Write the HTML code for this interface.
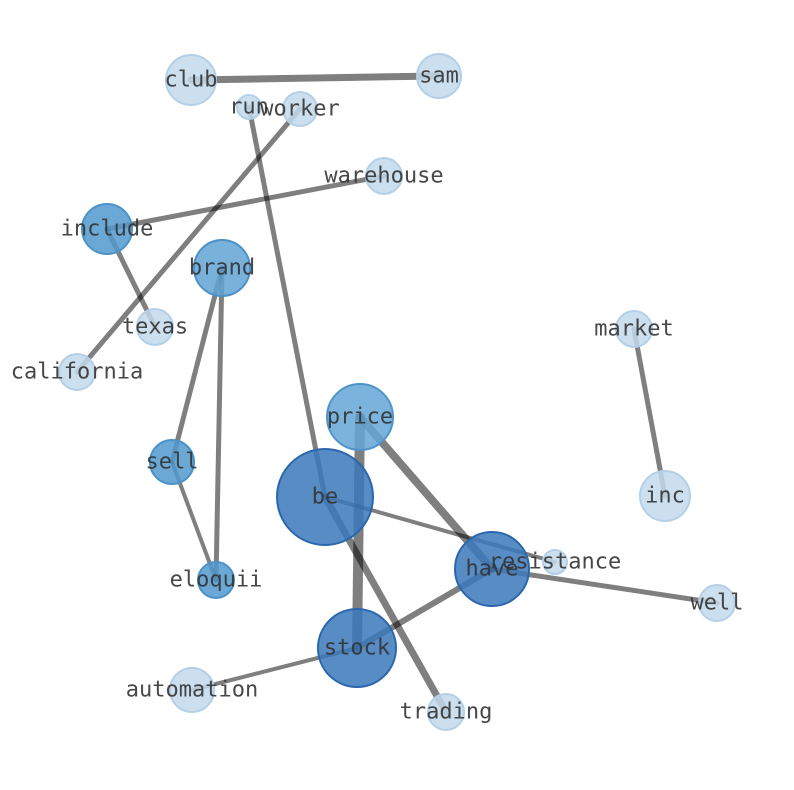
<!DOCTYPE html>
<html><head><meta charset="utf-8"><style>html,body{margin:0;padding:0;background:#fff}svg{display:block}</style></head>
<body>
<svg width="794" height="790" viewBox="0 0 794 790" xmlns="http://www.w3.org/2000/svg">
<g stroke-linecap="round">
<g stroke="#000" stroke-opacity="0.5">
<line x1="191" y1="80" x2="439" y2="76" stroke-width="7"/>
<line x1="249" y1="107" x2="325" y2="497" stroke-width="5"/>
<line x1="300" y1="109" x2="77" y2="372" stroke-width="5"/>
<line x1="384" y1="176" x2="107" y2="229" stroke-width="5"/>
<line x1="107" y1="229" x2="155" y2="327" stroke-width="5"/>
<line x1="222" y1="268" x2="172" y2="462" stroke-width="5"/>
<line x1="222" y1="268" x2="216" y2="580" stroke-width="5"/>
<line x1="172" y1="462" x2="216" y2="580" stroke-width="4"/>
<line x1="634" y1="329" x2="665" y2="496" stroke-width="5"/>
<line x1="360" y1="417" x2="357" y2="648" stroke-width="10"/>
<line x1="360" y1="417" x2="492" y2="569" stroke-width="8"/>
<line x1="325" y1="497" x2="555" y2="562" stroke-width="4"/>
<line x1="325" y1="497" x2="446" y2="712" stroke-width="7"/>
<line x1="492" y1="569" x2="357" y2="648" stroke-width="6"/>
<line x1="492" y1="569" x2="717" y2="603" stroke-width="5"/>
<line x1="357" y1="648" x2="192" y2="690" stroke-width="4"/>
</g>
<g fill-opacity="0.85" stroke-width="2">
<circle cx="191" cy="80" r="25" fill="#c2d9ec" stroke="#b3d0e8"/>
<circle cx="439" cy="76" r="22" fill="#c2d9ec" stroke="#b3d0e8"/>
<circle cx="249" cy="107" r="12" fill="#c2d9ec" stroke="#b3d0e8"/>
<circle cx="300" cy="109" r="17" fill="#c2d9ec" stroke="#b3d0e8"/>
<circle cx="384" cy="176" r="18" fill="#c2d9ec" stroke="#b3d0e8"/>
<circle cx="107" cy="229" r="25" fill="#5199ce" stroke="#4a92c8"/>
<circle cx="222" cy="268" r="28" fill="#60a3d3" stroke="#4a92c8"/>
<circle cx="155" cy="327" r="18" fill="#c2d9ec" stroke="#b3d0e8"/>
<circle cx="77" cy="372" r="18" fill="#c2d9ec" stroke="#b3d0e8"/>
<circle cx="634" cy="329" r="18" fill="#c2d9ec" stroke="#b3d0e8"/>
<circle cx="360" cy="417" r="33" fill="#63a6d5" stroke="#4e95ca"/>
<circle cx="665" cy="496" r="25" fill="#c2d9ec" stroke="#b3d0e8"/>
<circle cx="172" cy="462" r="22" fill="#5199ce" stroke="#4a92c8"/>
<circle cx="325" cy="497" r="48" fill="#3a78bb" stroke="#2b67ad"/>
<circle cx="555" cy="562" r="12" fill="#c2d9ec" stroke="#b3d0e8"/>
<circle cx="492" cy="569" r="37" fill="#3a78bb" stroke="#2b67ad"/>
<circle cx="216" cy="580" r="18" fill="#5199ce" stroke="#4a92c8"/>
<circle cx="717" cy="603" r="18" fill="#c2d9ec" stroke="#b3d0e8"/>
<circle cx="357" cy="648" r="39" fill="#3a78bb" stroke="#2b67ad"/>
<circle cx="192" cy="690" r="22" fill="#c2d9ec" stroke="#b3d0e8"/>
<circle cx="446" cy="712" r="18" fill="#c2d9ec" stroke="#b3d0e8"/>
</g>
</g>
<g font-family="'DejaVu Sans Mono','Liberation Mono',monospace" font-size="22" fill="#333" fill-opacity="0.9" text-anchor="middle" dominant-baseline="central">
<text x="191" y="80">club</text>
<text x="439" y="76">sam</text>
<text x="249" y="107">run</text>
<text x="300" y="109">worker</text>
<text x="384" y="176">warehouse</text>
<text x="107" y="229">include</text>
<text x="222" y="268">brand</text>
<text x="155" y="327">texas</text>
<text x="77" y="372">california</text>
<text x="634" y="329">market</text>
<text x="360" y="417">price</text>
<text x="665" y="496">inc</text>
<text x="172" y="462">sell</text>
<text x="325" y="497">be</text>
<text x="555" y="562">resistance</text>
<text x="492" y="569">have</text>
<text x="216" y="580">eloquii</text>
<text x="717" y="603">well</text>
<text x="357" y="648">stock</text>
<text x="192" y="690">automation</text>
<text x="446" y="712">trading</text>
</g>
</svg>
</body></html>
